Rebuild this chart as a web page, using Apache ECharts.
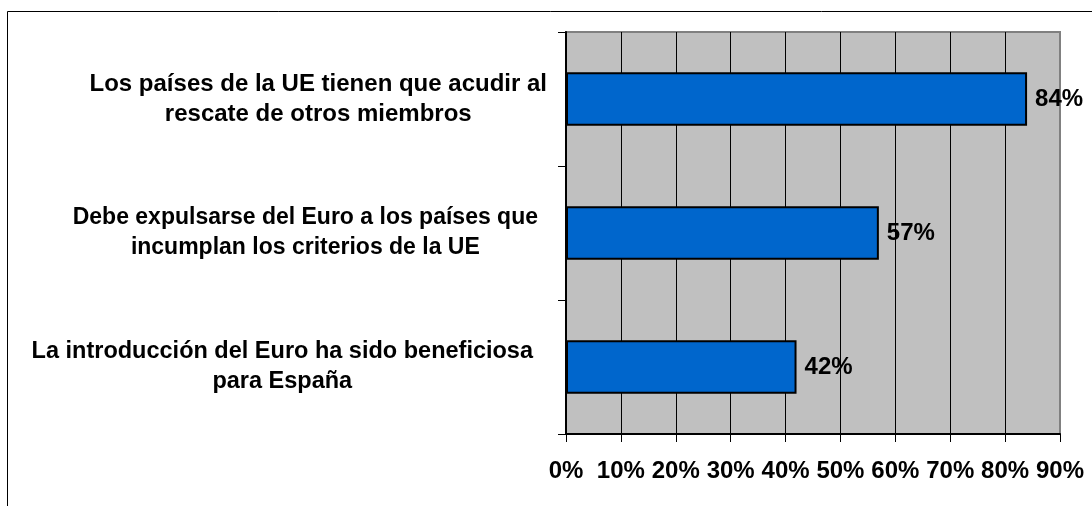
<!DOCTYPE html>
<html>
<head>
<meta charset="utf-8">
<script src="https://cdn.jsdelivr.net/npm/echarts@6/dist/echarts.min.js"></script>
<style>
html,body{margin:0;padding:0;background:#fff;}
#chart{width:1092px;height:506px;}
</style>
</head>
<body>
<div id="chart"></div>
<script>
const categories = [
  'Los países de la UE tienen que acudir al\nrescate de otros miembros',
  'Debe expulsarse del Euro a los países que\nincumplan los criterios de la UE',
  'La introducción del Euro ha sido beneficiosa\npara España'
];
const values = [84, 57, 42];
const xTicks = { min: 0, max: 90, interval: 10 };

const FONT = "'Liberation Sans', Arial, sans-serif";
const labelFont = { fontFamily: FONT, fontSize: 24, fontWeight: 'bold', color: '#000', lineHeight: 30, align: 'center' };
const chart = echarts.init(document.getElementById('chart'));
chart.setOption({
  animation: false,
  backgroundColor: '#ffffff',
  graphic: [{
    type: 'rect',
    shape: { x: 7.5, y: 11.5, width: 1200, height: 600 },
    style: { fill: 'none', stroke: '#000', lineWidth: 1 },
    z: 100
  }],
  grid: {
    left: 566, right: 32, top: 32, bottom: 72,
    show: true, backgroundColor: '#C0C0C0',
    borderColor: '#808080', borderWidth: 2
  },
  xAxis: {
    type: 'value',
    min: xTicks.min, max: xTicks.max, interval: xTicks.interval,
    axisLine: { show: true, lineStyle: { color: '#000', width: 2 } },
    axisTick: { show: true, length: 8, lineStyle: { color: '#000', width: 1 } },
    axisLabel: {
      formatter: '{value}%', margin: 25,
      fontFamily: FONT, fontSize: 24, fontWeight: 'bold', color: '#000'
    },
    splitLine: { show: true, showMinLine: false, showMaxLine: false, lineStyle: { color: '#000', width: 1 } }
  },
  yAxis: {
    type: 'category',
    inverse: true,
    data: categories,
    axisLine: { show: true, lineStyle: { color: '#000', width: 2 } },
    axisTick: { show: true, length: 8, lineStyle: { color: '#000', width: 1 } },
    axisLabel: {
      align: 'right', margin: 19,
      fontFamily: FONT, fontSize: 24, fontWeight: 'bold', color: '#000',
      lineHeight: 30,
      formatter: function (value, index) {
        return value.split('\n').map(function (l) { return '{s' + index + '|' + l + '}'; }).join('\n');
      },
      rich: {
        s0: Object.assign({}, labelFont, { padding: [0, 0, 0, 0] }),
        s1: Object.assign({}, labelFont, { fontSize: 23, padding: [0, 9, 0, 0] }),
        s2: Object.assign({}, labelFont, { fontSize: 23.5, padding: [0, 14, 0, 0] })
      }
    },
    splitLine: { show: false }
  },
  series: [{
    type: 'bar',
    data: values,
    barCategoryGap: '60%',
    itemStyle: { color: '#0066CC', borderColor: '#000', borderWidth: 2 },
    label: {
      show: true, position: 'right', distance: 8,
      formatter: '{c}%',
      fontFamily: FONT, fontSize: 24, fontWeight: 'bold', color: '#000'
    }
  }]
});
</script>
</body>
</html>
